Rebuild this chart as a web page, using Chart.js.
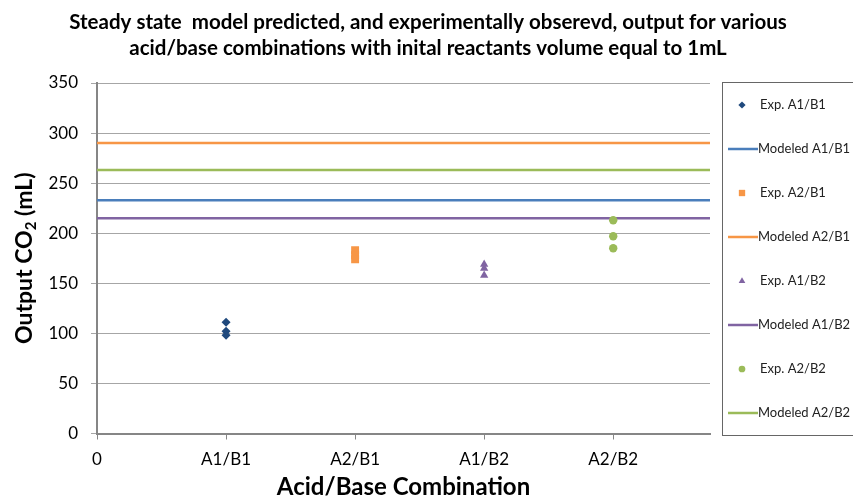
<!DOCTYPE html>
<html>
<head>
<meta charset="utf-8">
<script src="https://cdn.jsdelivr.net/npm/chart.js"></script>
<style>
  html, body { margin: 0; padding: 0; background: #fff; }
  #wrap { width: 853px; height: 499px; }
</style>
</head>
<body>
<div id="wrap"><canvas id="chart" width="853" height="499"></canvas></div>
<script>
// category labels on the x axis (position 0 is the plain "0" tick)
const categories = ['0', 'A1/B1', 'A2/B1', 'A1/B2', 'A2/B2'];
const xMax = 4.75;

// experimental repeats, one array per combination
const expA1B1 = [111, 102, 98];
const expA2B1 = [183, 178, 174];
const expA1B2 = [169, 165, 158];
const expA2B2 = [213, 197, 185];

// modeled steady state output (mL)
const modeledA1B1 = 233;
const modeledA2B1 = 290;
const modeledA1B2 = 215;
const modeledA2B2 = 263;

const titleLines = [
    'Steady state  model predicted, and experimentally obserevd, output for various',
    'acid/base combinations with inital reactants volume equal to 1mL'
];
// y title pieces: main text, subscript, rest
const yTitleParts = ['Output CO', '2', ' (mL)'];

const FONT = "Lato, 'Open Sans', sans-serif";

const expSet = (label, xPos, values, style, color, radius) => ({
    type: 'scatter',
    label: label,
    data: values.map(v => ({ x: xPos, y: v })),
    pointStyle: style,
    pointRadius: radius,
    pointHoverRadius: radius,
    pointBorderWidth: 0,
    backgroundColor: color,
    borderColor: color,
    showLine: false,
    order: 0
});

const modelSet = (label, value, color) => ({
    type: 'line',
    label: label,
    data: [{ x: 0, y: value }, { x: xMax, y: value }],
    borderColor: color,
    backgroundColor: color,
    borderWidth: 2.5,
    pointRadius: 0,
    showLine: true,
    fill: false,
    order: 1
});

const datasets = [
    expSet('Exp. A1/B1', 1, expA1B1, 'rectRot', '#1F497D', 4.5),
    modelSet('Modeled A1/B1', modeledA1B1, '#4A7EBB'),
    expSet('Exp. A2/B1', 2, expA2B1, 'rect', '#F79646', 5.6),
    modelSet('Modeled A2/B1', modeledA2B1, '#F79646'),
    expSet('Exp. A1/B2', 3, expA1B2, 'triangle', '#8064A2', 4.8),
    modelSet('Modeled A1/B2', modeledA1B2, '#8064A2'),
    expSet('Exp. A2/B2', 4, expA2B2, 'circle', '#9BBB59', 4.2),
    modelSet('Modeled A2/B2', modeledA2B2, '#9BBB59')
];

// title and y-axis title drawn by hand (the y title needs a real subscript)
const titlePlugin = {
    id: 'handTitles',
    afterDraw(chart) {
        const ctx = chart.ctx;
        ctx.save();
        ctx.font = 'bold 20.5px ' + FONT;
        ctx.fillStyle = '#000';
        ctx.textAlign = 'center';
        ctx.textBaseline = 'middle';
        titleLines.forEach((t, i) => ctx.fillText(t, 428, 22 + i * 26));

        const area = chart.chartArea;
        const big = 'bold 23px ' + FONT, small = 'bold 15px ' + FONT;
        ctx.font = big;
        const w0 = ctx.measureText(yTitleParts[0]).width;
        const w2 = ctx.measureText(yTitleParts[2]).width;
        ctx.font = small;
        const w1 = ctx.measureText(yTitleParts[1]).width;
        const total = w0 + w1 + w2;
        ctx.translate(24, (area.top + area.bottom) / 2);
        ctx.rotate(-Math.PI / 2);
        ctx.textAlign = 'left';
        ctx.textBaseline = 'alphabetic';
        let x = -total / 2;
        ctx.font = big;
        ctx.fillText(yTitleParts[0], x, 8);
        x += w0;
        ctx.font = small;
        ctx.fillText(yTitleParts[1], x, 12);
        x += w1;
        ctx.font = big;
        ctx.fillText(yTitleParts[2], x, 8);
        ctx.restore();
    }
};

// boxed legend on the right, one row per dataset
const legendPlugin = {
    id: 'boxLegend',
    afterDraw(chart) {
        const ctx = chart.ctx;
        const left = 722, top = 82, bottom = 435;
        ctx.save();
        ctx.strokeStyle = '#666';
        ctx.lineWidth = 1;
        ctx.strokeRect(left + 0.5, top + 0.5, 200, bottom - top);
        ctx.font = '13px ' + FONT;
        ctx.textBaseline = 'middle';
        chart.data.datasets.forEach((ds, i) => {
            const y = 105 + i * 44;
            if (ds.showLine) {
                ctx.strokeStyle = ds.borderColor;
                ctx.lineWidth = 2.5;
                ctx.beginPath();
                ctx.moveTo(728, y);
                ctx.lineTo(758, y);
                ctx.stroke();
                ctx.fillStyle = '#222';
                ctx.fillText(ds.label, 758, y);
            } else {
                ctx.fillStyle = ds.backgroundColor;
                Chart.helpers.drawPoint(ctx, {
                    pointStyle: ds.pointStyle,
                    radius: ds.pointRadius * 0.8,
                    rotation: 0,
                    borderWidth: 0
                }, 742, y);
                ctx.fillStyle = '#222';
                ctx.fillText(ds.label, 760, y);
            }
        });
        ctx.restore();
    }
};

new Chart(document.getElementById('chart'), {
    type: 'scatter',
    data: { datasets: datasets },
    plugins: [titlePlugin, legendPlugin],
    options: {
        responsive: false,
        animation: false,
        layout: { padding: { top: 83, right: 143, bottom: 0, left: 0 } },
        plugins: {
            legend: { display: false },
            title: { display: false },
            tooltip: { enabled: false }
        },
        scales: {
            x: {
                type: 'linear',
                min: 0,
                max: xMax,
                afterFit: s => { s.height = 65.5; },
                afterBuildTicks: s => { s.ticks = categories.map((c, i) => ({ value: i })); },
                ticks: {
                    callback: v => categories[v],
                    font: { family: FONT, size: 17 },
                    color: '#000',
                    padding: 10,
                    maxRotation: 0,
                    autoSkip: false
                },
                grid: { drawOnChartArea: false, tickLength: 6, color: '#868686' },
                border: { color: '#868686', width: 2 },
                title: {
                    display: true,
                    text: 'Acid/Base Combination',
                    font: { family: FONT, size: 24, weight: 'bold', lineHeight: 1 },
                    color: '#000',
                    padding: { top: 0, bottom: 0 }
                }
            },
            y: {
                min: 0,
                max: 350,
                afterFit: s => { s.width = 97; },
                ticks: {
                    stepSize: 50,
                    font: { family: FONT, size: 17 },
                    color: '#000',
                    padding: 13
                },
                grid: { color: '#a6a6a6', tickLength: 6 },
                border: { color: '#868686', width: 2 }
            }
        }
    }
});
</script>
</body>
</html>
